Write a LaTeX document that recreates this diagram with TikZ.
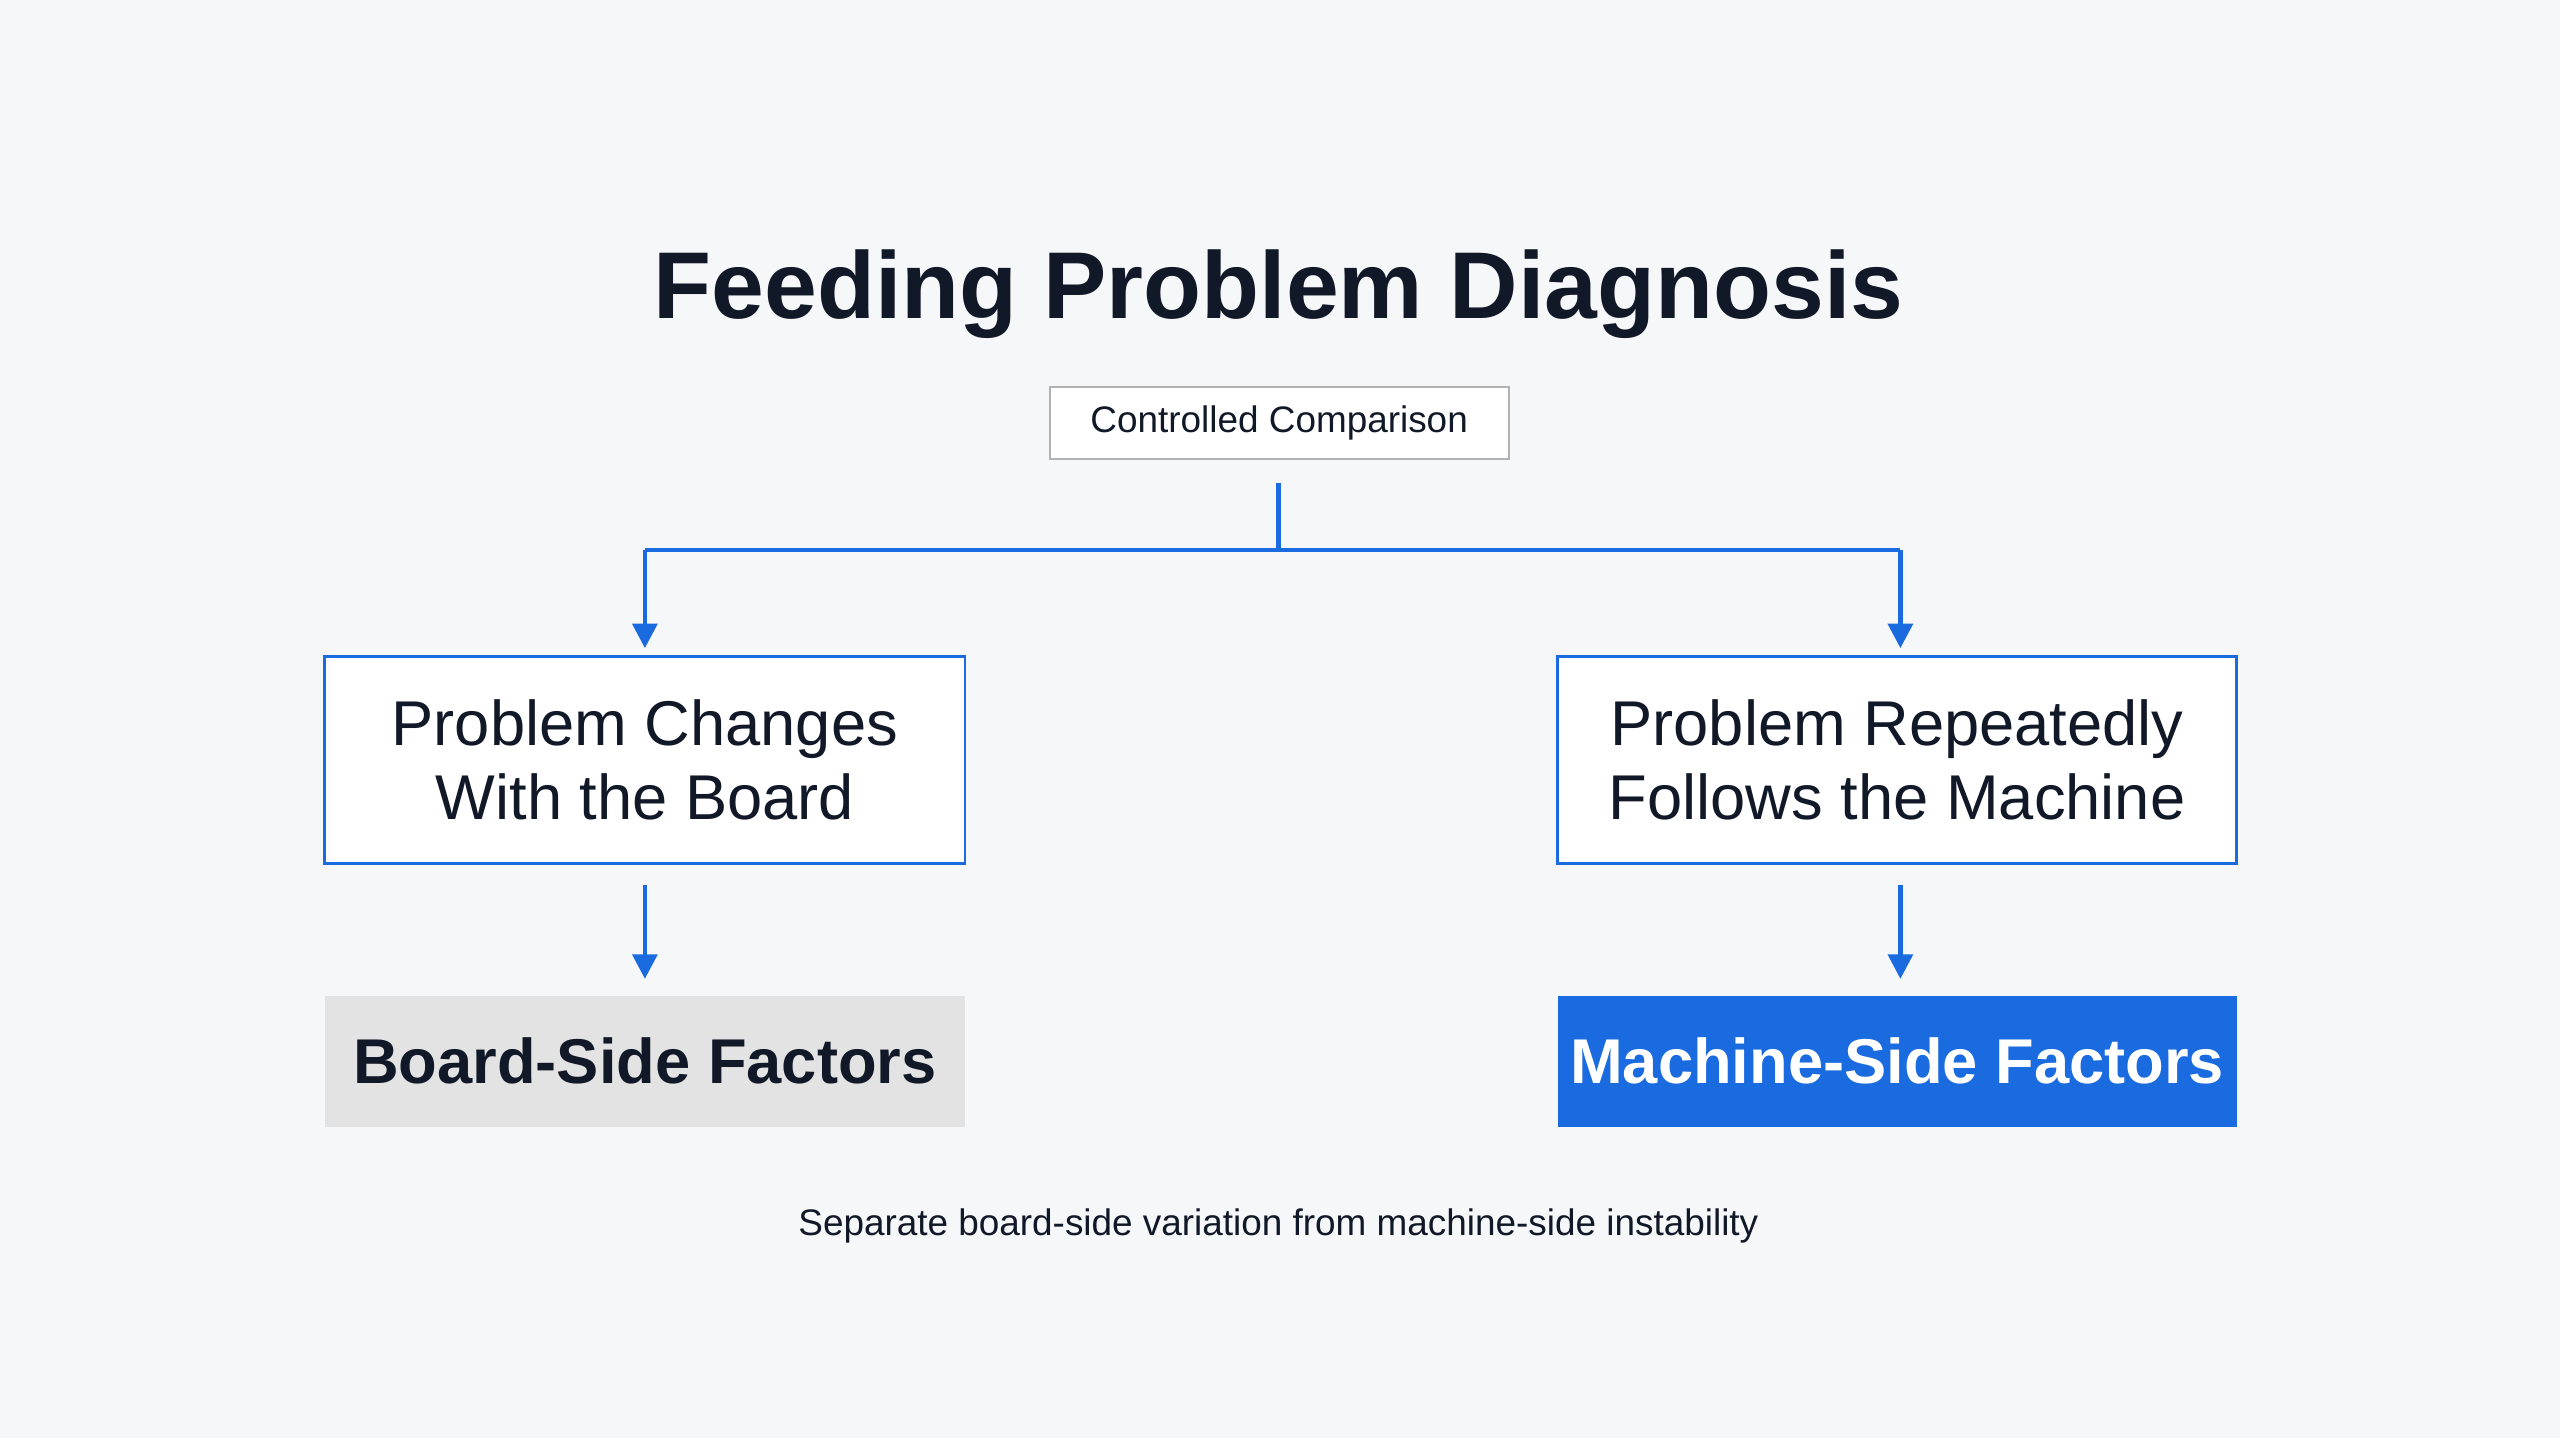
\documentclass[tikz,border=0pt]{standalone}
\usepackage{fontspec}
\setmainfont{Liberation Sans}
\usetikzlibrary{arrows.meta}
\definecolor{bluec}{HTML}{1A6BE0}
\definecolor{ink}{HTML}{111827}
\definecolor{bg}{HTML}{F6F7F8}
\begin{document}
\begin{tikzpicture}[x=0.01633cm,y=-0.01633cm,
  arr/.style={draw=bluec,line width=1.3pt,-{Triangle[length=7pt,width=7pt]}},
  fac/.style={font=\fontsize{18}{22}\selectfont\bfseries,align=center}]
\fill[bg] (0,0) rectangle (1568,881);
\node[font=\fontsize{27}{32}\selectfont\bfseries,text=ink] (title) at (783,180) {Feeding Problem Diagnosis};
\node[draw=gray!60,fill=white,line width=0.6pt,minimum width=281*0.4646pt,minimum height=44*0.4646pt,font=\fontsize{10.5}{12}\selectfont,text=ink] (cc) at (783.5,259) {Controlled Comparison};
\node[draw=bluec,line width=0.8pt,fill=white,minimum width=392*0.4646pt,minimum height=127*0.4646pt,align=center,font=\fontsize{18}{21}\selectfont,text=ink] (l) at (395,465.5) {Problem Changes\\With the Board};
\node[draw=bluec,line width=0.8pt,fill=white,minimum width=416*0.4646pt,minimum height=127*0.4646pt,align=center,font=\fontsize{18}{21}\selectfont,text=ink] (r) at (1162,465.5) {Problem Repeatedly\\Follows the Machine};
\node[fill=gray!22,minimum width=392*0.4646pt,minimum height=80*0.4646pt,fac,text=ink] (bf) at (395,650) {Board-Side Factors};
\node[fill=bluec,minimum width=416*0.4646pt,minimum height=80*0.4646pt,fac,text=white] (mf) at (1162,650) {Machine-Side Factors};
\coordinate (t) at (783,296);
\coordinate (j) at (783,337);
\coordinate (jl) at (395,337);
\coordinate (jr) at (1164,337);
\draw[draw=bluec,line width=1.3pt] (t) -- (j) (jl) -- (jr);
\draw[arr] (jl) -- (395,397);
\draw[arr] (jr) -- (1164,397);
\draw[arr] ([yshift=-12*0.4646pt]l.south) -- ([yshift=10*0.4646pt]bf.north);
\draw[arr] ([xshift=2*0.4646pt,yshift=-12*0.4646pt]r.south) -- ([xshift=2*0.4646pt,yshift=10*0.4646pt]mf.north);
\node[font=\fontsize{10.5}{12}\selectfont,text=ink] (cap) at (783,751) {Separate board-side variation from machine-side instability};
\end{tikzpicture}
\end{document}
